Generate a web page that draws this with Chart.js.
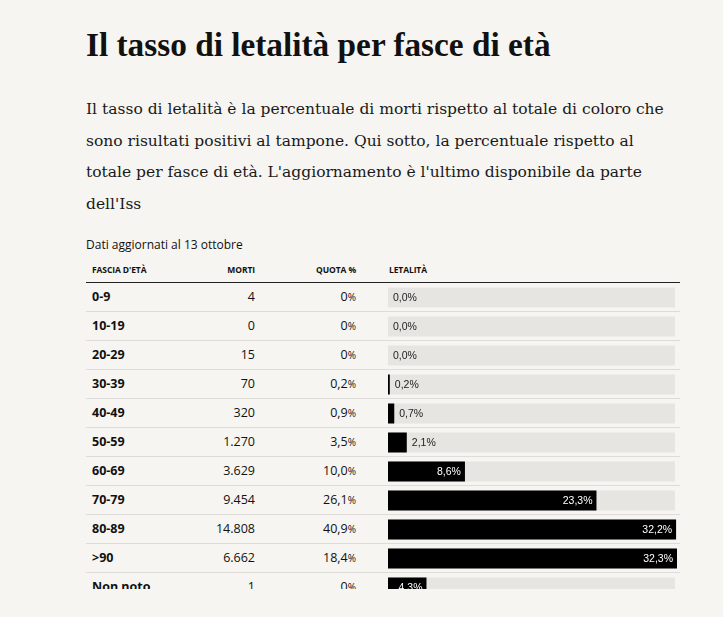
<!DOCTYPE html>
<html>
<head>
<meta charset="utf-8">
<script src="https://cdn.jsdelivr.net/npm/chart.js@4"></script>
<style>
  html, body { margin: 0; padding: 0; background: #f6f5f1; }
  body { width: 723px; height: 617px; position: relative; overflow: hidden; }
  #wrap { position: absolute; left: 0; top: 0; width: 723px; height: 589px; overflow: hidden; }
  h1 { position: absolute; left: 86px; top: 25px; margin: 0; font: bold 33.3px/40px "Liberation Serif", serif; color: #111; white-space: nowrap; }
  #intro { position: absolute; left: 86px; top: 94px; margin: 0; font: 15.5px/31.5px "DejaVu Serif", serif; color: #1a1a1a; white-space: nowrap; }
  #note { position: absolute; left: 86px; top: 237px; font: 12px/16px "Open Sans", sans-serif; color: #111; white-space: nowrap; }
  #table { position: absolute; left: 86px; top: 264px; width: 594px; font-family: "Open Sans", sans-serif; color: #111; }
  .head { position: relative; height: 18px; border-bottom: 1px solid #222; font: bold 8.5px/12px "Open Sans", sans-serif; text-transform: uppercase; letter-spacing: -0.1px; }
  .head span, .row span { position: absolute; white-space: nowrap; }
  .row { position: relative; height: 28px; border-bottom: 1px solid #dddcd8; font-size: 12.5px; line-height: 28px; }
  .c1 { left: 6px; }
  .c2 { right: 425px; text-align: right; }
  .c3 { right: 324px; text-align: right; }
  .c4 { left: 303px; }
  .row .c1 { font-weight: bold; }
  .pct { font-size: 0.8em; }
  #chartBox { position: absolute; left: 388px; top: 283px; width: 289px; height: 319px; }
</style>
</head>
<body>
<div id="wrap">
  <h1>Il tasso di letalità per fasce di età</h1>
  <p id="intro">Il tasso di letalità è la percentuale di morti rispetto al totale di coloro che<br>sono risultati positivi al tampone. Qui sotto, la percentuale rispetto al<br>totale per fasce di età. L'aggiornamento è l'ultimo disponibile da parte<br>dell'Iss</p>
  <div id="note">Dati aggiornati al 13 ottobre</div>
  <div id="table"></div>
  <div id="chartBox"><canvas id="c"></canvas></div>
</div>
<script>
const headers = ["Fascia d'età", "Morti", "Quota %", "Letalità"];
const fasce = ["0-9", "10-19", "20-29", "30-39", "40-49", "50-59", "60-69", "70-79", "80-89", ">90", "Non noto"];
const morti = [4, 0, 15, 70, 320, 1270, 3629, 9454, 14808, 6662, 1];
const quota = [0, 0, 0, 0.2, 0.9, 3.5, 10.0, 26.1, 40.9, 18.4, 0];
const letalita = [0.0, 0.0, 0.0, 0.2, 0.7, 2.1, 8.6, 23.3, 32.2, 32.3, 4.3];

function fmtInt(n) { return String(n).replace(/\B(?=(\d{3})+(?!\d))/g, '.'); }
function fmtDec(v) { return v.toFixed(1).replace('.', ','); }
function fmtQuota(v) { return v === 0 ? '0' : fmtDec(v); }

const table = document.getElementById('table');
let html = '<div class="head"><span class="c1">' + headers[0] + '</span><span class="c2">' + headers[1] +
  '</span><span class="c3">' + headers[2] + '</span><span class="c4">' + headers[3] + '</span></div>';
fasce.forEach((f, i) => {
  html += '<div class="row"><span class="c1">' + f + '</span><span class="c2">' + fmtInt(morti[i]) +
    '</span><span class="c3">' + fmtQuota(quota[i]) + '<span class="pct" style="position:static">%</span></span></div>';
});
table.innerHTML = html;

const maxVal = Math.max(...letalita);

const labelPlugin = {
  id: 'barLabels',
  afterDatasetsDraw(chart) {
    const ctx = chart.ctx;
    const meta = chart.getDatasetMeta(1);
    ctx.save();
    ctx.font = '10.5px "Liberation Sans", Arial, sans-serif';
    ctx.textBaseline = 'middle';
    meta.data.forEach((bar, i) => {
      const txt = fmtDec(letalita[i]) + '%';
      const w = ctx.measureText(txt).width;
      const barW = bar.x - bar.base;
      if (barW > w + 8) {
        ctx.fillStyle = '#ffffff';
        ctx.textAlign = 'right';
        ctx.fillText(txt, bar.x - 4, bar.y + 0.5);
      } else {
        ctx.fillStyle = '#222222';
        ctx.textAlign = 'left';
        ctx.fillText(txt, bar.x + 5, bar.y + 0.5);
      }
    });
    ctx.restore();
  }
};

new Chart(document.getElementById('c'), {
  type: 'bar',
  data: {
    labels: fasce,
    datasets: [
      {
        label: 'track',
        data: fasce.map(() => maxVal * 0.993),
        backgroundColor: '#e6e5e1',
        barThickness: 20,
        grouped: false,
        order: 2,
        borderWidth: 0,
        inflateAmount: 0
      },
      {
        label: 'Letalità',
        data: letalita,
        backgroundColor: '#000000',
        barThickness: 20,
        grouped: false,
        order: 1,
        borderWidth: 0,
        inflateAmount: 0
      }
    ]
  },
  options: {
    indexAxis: 'y',
    responsive: true,
    maintainAspectRatio: false,
    animation: false,
    layout: { padding: 0 },
    plugins: { legend: { display: false }, tooltip: { enabled: false } },
    scales: {
      x: { display: false, min: 0, max: maxVal },
      y: { display: false }
    }
  },
  plugins: [labelPlugin]
});
</script>
</body>
</html>
